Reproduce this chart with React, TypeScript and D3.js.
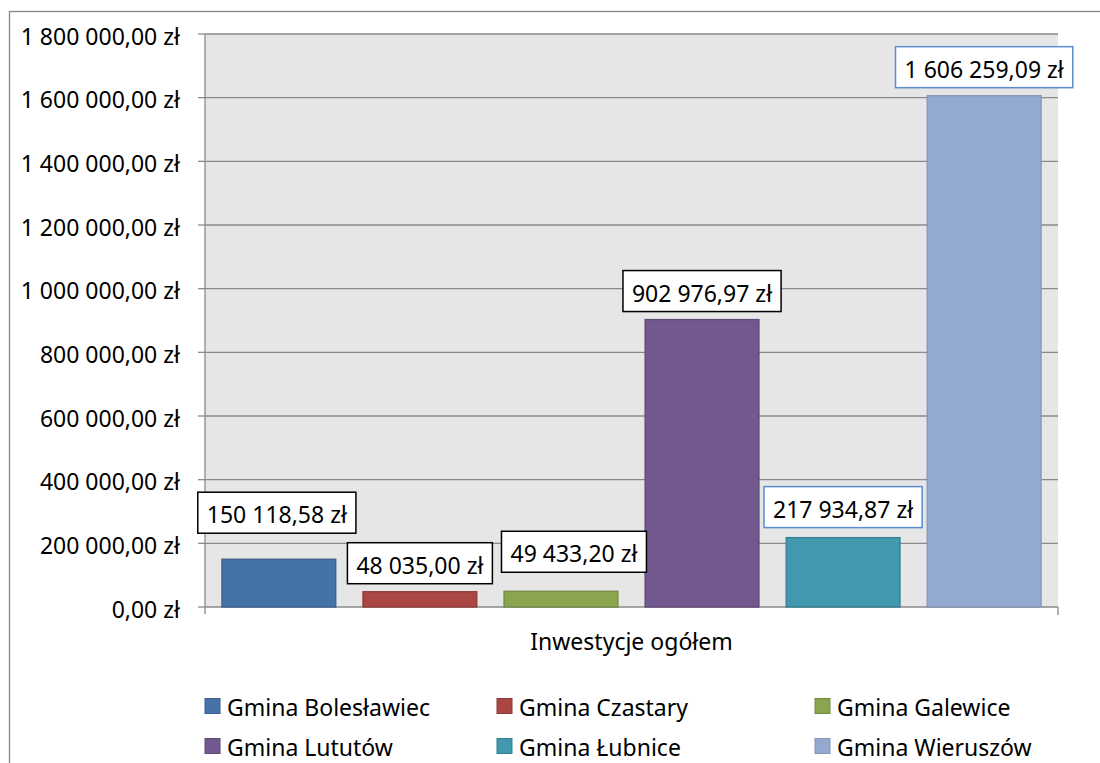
import * as d3 from 'd3'
import React, { useEffect, useRef } from 'react'

const categories = ['Gmina Bolesławiec', 'Gmina Czastary', 'Gmina Galewice', 'Gmina Lututów', 'Gmina Łubnice', 'Gmina Wieruszów']
const values = [150118.58, 48035.0, 49433.2, 902976.97, 217934.87, 1606259.09]
const labels = ['150 118,58 zł', '48 035,00 zł', '49 433,20 zł', '902 976,97 zł', '217 934,87 zł', '1 606 259,09 zł']
const yTicks = [0, 200000, 400000, 600000, 800000, 1000000, 1200000, 1400000, 1600000, 1800000]
const yTickLabels = ['0,00 zł', '200 000,00 zł', '400 000,00 zł', '600 000,00 zł', '800 000,00 zł', '1 000 000,00 zł', '1 200 000,00 zł', '1 400 000,00 zł', '1 600 000,00 zł', '1 800 000,00 zł']
const axisTitle = 'Inwestycje ogółem'

const fills = ['#4572a7', '#aa4643', '#89a54e', '#71588f', '#4198af', '#93a9cf']
const strokes = ['#3a5f8c', '#8e3a38', '#718a40', '#5d4876', '#357f93', '#8497bb']
const boxBorders = ['#000', '#000', '#000', '#000', '#5b8bd0', '#5b8bd0']
// manual nudges of the data labels, as in the original (moved to avoid overlaps)
const nudgeUp = [18, 0, 11, 0, 2, 0]
const nudgeX = [-2, 0, 13, 0, 0, 0]

const FONT = '"Noto Sans", "Open Sans", sans-serif'
const FS = 23

function Chart () {
  const node = useRef<SVGSVGElement>(null)

  useEffect(() => {
    document.body.style.margin = '0'
    const svg = d3.select(node.current)
    svg.selectAll('*').remove()

    const left = 205; const right = 1058; const top = 34; const bottom = 607

    const y = d3.scaleLinear().domain([0, 1800000]).range([bottom, top])
    const x = d3.scaleBand<string>().domain(categories).range([left, right])
      .paddingInner(0.193).paddingOuter(0.12)

    // outer chart frame
    svg.append('rect')
      .attr('x', 9.5).attr('y', 11.5).attr('width', 1200).attr('height', 900)
      .attr('fill', '#fff').attr('stroke', '#868686').attr('stroke-width', 1.3)

    // plot area
    svg.append('rect')
      .attr('x', left).attr('y', top).attr('width', right - left).attr('height', bottom - top)
      .attr('fill', '#e6e6e6')

    const grid = svg.append('g')
    grid.selectAll('line').data(yTicks.slice(1)).enter().append('line')
      .attr('x1', left).attr('x2', right)
      .attr('y1', d => y(d)).attr('y2', d => y(d))
      .attr('stroke', '#8a8a8a').attr('stroke-width', 1.3)

    // y axis
    svg.append('line')
      .attr('x1', left).attr('x2', left).attr('y1', top).attr('y2', bottom + 7)
      .attr('stroke', '#8a8a8a').attr('stroke-width', 1.3)
    svg.append('g').selectAll('line').data(yTicks).enter().append('line')
      .attr('x1', left - 7).attr('x2', left)
      .attr('y1', d => y(d)).attr('y2', d => y(d))
      .attr('stroke', '#8a8a8a').attr('stroke-width', 1.3)
    svg.append('g').selectAll('text').data(yTicks).enter().append('text')
      .attr('x', 180).attr('y', d => y(d) + 1.5)
      .attr('text-anchor', 'end').attr('dominant-baseline', 'central')
      .attr('font-family', FONT).attr('font-size', FS).attr('fill', '#000')
      .text((d, i) => yTickLabels[i])

    // x axis
    svg.append('line')
      .attr('x1', left).attr('x2', right).attr('y1', bottom).attr('y2', bottom)
      .attr('stroke', '#8a8a8a').attr('stroke-width', 1.3)
    svg.append('line')
      .attr('x1', right).attr('x2', right).attr('y1', bottom).attr('y2', bottom + 8)
      .attr('stroke', '#8a8a8a').attr('stroke-width', 1.3)
    svg.append('text')
      .attr('x', (left + right) / 2).attr('y', 650)
      .attr('text-anchor', 'middle')
      .attr('font-family', FONT).attr('font-size', FS).attr('fill', '#000')
      .text(axisTitle)

    // bars
    svg.append('g').selectAll('rect').data(values).enter().append('rect')
      .attr('x', (d, i) => x(categories[i]) as number)
      .attr('y', d => y(d))
      .attr('width', x.bandwidth())
      .attr('height', d => bottom - y(d))
      .attr('fill', (d, i) => fills[i])
      .attr('stroke', (d, i) => strokes[i]).attr('stroke-width', 1.3)

    // data labels in boxes
    values.forEach((v, i) => {
      const cx = (x(categories[i]) as number) + x.bandwidth() / 2 + nudgeX[i]
      const boxBottom = y(v) - 8 - nudgeUp[i]
      const g = svg.append('g')
      const box = g.append('rect')
      const t = g.append('text')
        .attr('x', cx).attr('y', boxBottom - 20.5 + 1.5)
        .attr('text-anchor', 'middle').attr('dominant-baseline', 'central')
        .attr('font-family', FONT).attr('font-size', FS).attr('fill', '#000')
        .text(labels[i])
      const w = (t.node() as SVGTextElement).getComputedTextLength() + 18
      box.attr('x', cx - w / 2).attr('y', boxBottom - 41)
        .attr('width', w).attr('height', 41)
        .attr('fill', '#fff').attr('stroke', boxBorders[i]).attr('stroke-width', 1.5)
    })

    // legend
    const colX = [205, 497, 815]
    const rowY = [706, 746]
    const legend = svg.append('g')
    categories.forEach((c, i) => {
      const lx = colX[i % 3]; const ly = rowY[Math.floor(i / 3)]
      legend.append('rect')
        .attr('x', lx).attr('y', ly - 7.5).attr('width', 15).attr('height', 15)
        .attr('fill', fills[i]).attr('stroke', strokes[i]).attr('stroke-width', 1)
      legend.append('text')
        .attr('x', lx + 22).attr('y', ly + 1)
        .attr('dominant-baseline', 'central')
        .attr('font-family', FONT).attr('font-size', FS).attr('fill', '#000')
        .text(c)
    })
  }, [])

  return <svg ref={node} width={1100} height={763} style={{ display: 'block' }} />
}

export default function App () {
  return <Chart />
}
